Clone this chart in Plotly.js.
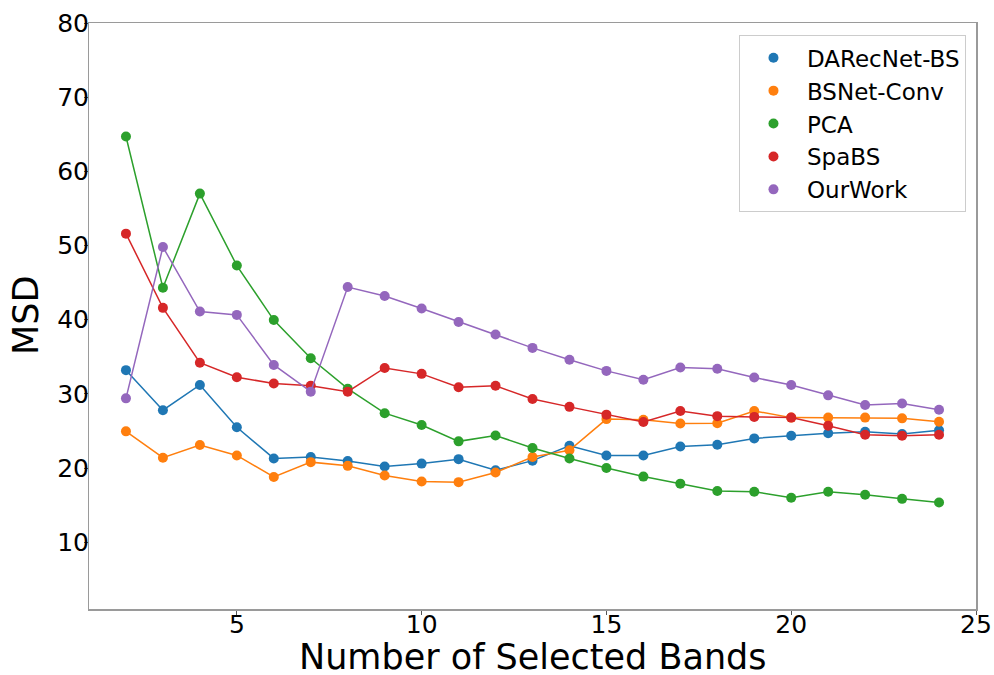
<!DOCTYPE html>
<html>
<head>
<meta charset="utf-8">
<script src="https://cdn.plot.ly/plotly-3.0.1.min.js"></script>
<style>
html,body{margin:0;padding:0;background:#fff;}
#chart{width:994px;height:675px;}
</style>
</head>
<body>
<div id="chart"></div>
<script>
const bands = [2,3,4,5,6,7,8,9,10,11,12,13,14,15,16,17,18,19,20,21,22,23,24];
const darecnet = [33.2,27.8,31.2,25.5,21.3,21.5,20.95,20.2,20.6,21.2,19.7,21.0,23.0,21.7,21.7,22.9,23.15,24.0,24.35,24.7,24.9,24.6,25.1];
const bsnetConv = [24.95,21.4,23.1,21.7,18.8,20.8,20.3,19.0,18.2,18.1,19.4,21.5,22.4,26.6,26.5,26.0,26.05,27.7,26.8,26.8,26.8,26.7,26.25];
const pca = [64.7,44.3,57.0,47.3,39.95,34.8,30.7,27.4,25.8,23.6,24.4,22.7,21.3,20.0,18.85,17.9,16.9,16.8,16.0,16.8,16.4,15.85,15.35];
const spabs = [51.6,41.6,34.2,32.25,31.4,31.1,30.3,33.5,32.7,30.9,31.1,29.3,28.25,27.2,26.2,27.7,27.0,26.9,26.8,25.7,24.5,24.35,24.5];
const ourWork = [29.4,49.8,41.1,40.65,33.9,30.3,44.4,43.2,41.5,39.7,38.0,36.2,34.6,33.1,31.9,33.55,33.4,32.2,31.2,29.8,28.5,28.7,27.85];
const seriesNames = ["DARecNet-BS","BSNet-Conv","PCA","SpaBS","OurWork"];
const seriesValues = [darecnet, bsnetConv, pca, spabs, ourWork];
const seriesColors = ["#1f77b4","#ff7f0e","#2ca02c","#d62728","#9467bd"];
const xTickVals = [5,10,15,20,25];
const yTickVals = [10,20,30,40,50,60,70,80];
const xTitle = "Number of Selected Bands";
const yTitle = "MSD";
const xRange = [1, 25];
const yRange = [1, 80];

const font = "DejaVu Sans, Liberation Sans, sans-serif";
const traces = [];
seriesNames.forEach((name, i) => {
  traces.push({
    x: bands, y: seriesValues[i], type: "scatter", mode: "lines",
    line: {color: seriesColors[i], width: 1.5},
    showlegend: false, hoverinfo: "skip"
  });
  traces.push({
    x: bands, y: seriesValues[i], type: "scatter", mode: "markers",
    marker: {color: seriesColors[i], size: 10},
    name: name, showlegend: true
  });
});
// empty trace so the label-only overlay axes get a subplot
traces.push({x: [], y: [], type: "scatter", mode: "markers", xaxis: "x2", yaxis: "y2", showlegend: false, hoverinfo: "skip"});

const tickFont = {family: font, size: 25, color: "#000"};
const frameAxis = {
  showline: true, mirror: true, linecolor: "#9a9a9a", linewidth: 1.5,
  ticks: "outside", ticklen: 4, tickwidth: 1, tickcolor: "#555",
  showticklabels: false, showgrid: false, zeroline: false, automargin: false
};
const labelAxis = {
  showline: false, ticks: "", showgrid: false, zeroline: false, automargin: false,
  anchor: "free", tickfont: tickFont, tickmode: "array"
};

const layout = {
  width: 994, height: 675,
  margin: {l: 89, r: 18, t: 23, b: 66},
  paper_bgcolor: "#fff", plot_bgcolor: "#fff",
  font: {family: font, color: "#000"},
  xaxis: Object.assign({}, frameAxis, {range: xRange, tickmode: "array", tickvals: xTickVals}),
  yaxis: Object.assign({}, frameAxis, {range: yRange, tickmode: "array", tickvals: yTickVals}),
  xaxis2: Object.assign({}, labelAxis, {
    overlaying: "x", side: "bottom", position: 0.0035, range: xRange,
    tickvals: xTickVals, ticktext: xTickVals.map(String)
  }),
  yaxis2: Object.assign({}, labelAxis, {
    overlaying: "y", side: "left", position: 0, range: yRange,
    tickvals: yTickVals, ticktext: yTickVals.map(String)
  }),
  annotations: [
    {text: xTitle, xref: "paper", yref: "paper", x: 0.5, y: -0.0819,
     xanchor: "center", yanchor: "middle", showarrow: false,
     font: {family: font, size: 35, color: "#000"}},
    {text: yTitle, xref: "paper", yref: "paper", x: -0.071, y: 0.5,
     xanchor: "center", yanchor: "middle", textangle: -90, showarrow: false,
     font: {family: font, size: 35, color: "#000"}}
  ],
  legend: {
    x: 0.9887, xanchor: "right", y: 0.979, yanchor: "top",
    bgcolor: "#fff", bordercolor: "#cccccc", borderwidth: 1,
    font: {family: font, size: 23, color: "#000"},
    itemwidth: 57
  },
  showlegend: true
};

Plotly.newPlot("chart", traces, layout, {displayModeBar: false, staticPlot: true});
</script>
</body>
</html>
